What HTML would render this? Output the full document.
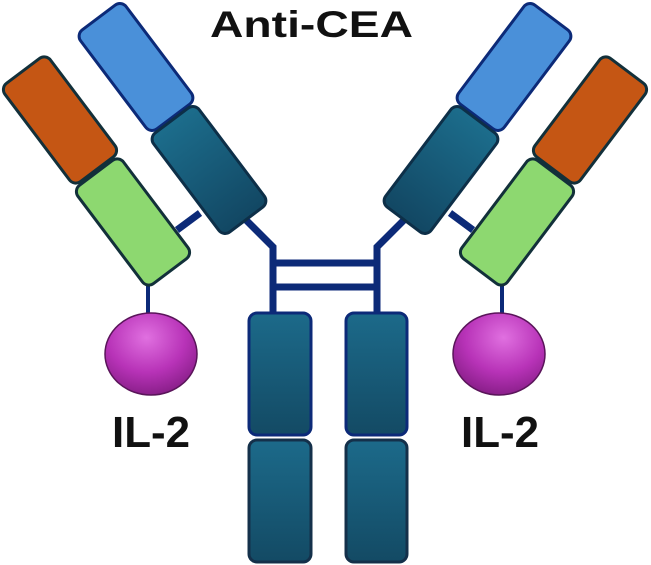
<!DOCTYPE html>
<html><head><meta charset="utf-8"><style>
html,body{margin:0;padding:0;background:#fff;}
svg{display:block}
</style></head><body>
<svg width="651" height="565" viewBox="0 0 651 565" xmlns="http://www.w3.org/2000/svg">
<defs>
<linearGradient id="tl" x1="0" y1="0" x2="0" y2="1"><stop offset="0" stop-color="#1c6d8c"/><stop offset="1" stop-color="#124763"/></linearGradient>
<linearGradient id="tb" x1="0" y1="0" x2="0" y2="1"><stop offset="0" stop-color="#1c6a8a"/><stop offset="1" stop-color="#134a64"/></linearGradient>
<radialGradient id="mg" cx="0.45" cy="0.3" r="0.7"><stop offset="0" stop-color="#e070e0"/><stop offset="0.6" stop-color="#b833b8"/><stop offset="1" stop-color="#8a1f8a"/></radialGradient>
<g id="arm">
  <line x1="200" y1="213" x2="177" y2="230" stroke="#0c2a78" stroke-width="7"/>
  <polyline points="246,220 273,247 273,314" fill="none" stroke="#0c2a78" stroke-width="7"/>
  <line x1="148" y1="283" x2="148" y2="314" stroke="#0c2a78" stroke-width="4"/>
  <rect x="107.5" y="5" width="57" height="124" rx="8" transform="rotate(-37 136 67)" fill="#4a90d9" stroke="#0c2a78" stroke-width="3"/>
  <rect x="180.5" y="108" width="57" height="124" rx="8" transform="rotate(-37 209 170)" fill="url(#tl)" stroke="#0d2f48" stroke-width="3"/>
  <rect x="31.5" y="58.5" width="57" height="123" rx="8" transform="rotate(-37 60 120)" fill="#c55614" stroke="#12303a" stroke-width="3"/>
  <rect x="104.5" y="160.5" width="57" height="123" rx="8" transform="rotate(-37 133 222)" fill="#8dd870" stroke="#12303a" stroke-width="3"/>
  <ellipse cx="151" cy="354" rx="46" ry="41" fill="url(#mg)" stroke="#5a155a" stroke-width="1.5"/>
</g>
</defs>
<use href="#arm"/>
<use href="#arm" transform="translate(650,0) scale(-1,1)"/>
<text x="112" y="447" font-family="Liberation Sans, sans-serif" font-weight="bold" font-size="44" textLength="78" lengthAdjust="spacingAndGlyphs" fill="#111">IL-2</text>
<text x="461" y="447" font-family="Liberation Sans, sans-serif" font-weight="bold" font-size="44" textLength="78" lengthAdjust="spacingAndGlyphs" fill="#111">IL-2</text>
<line x1="273" y1="263" x2="377" y2="263" stroke="#0c2a78" stroke-width="7"/>
<line x1="273" y1="287" x2="377" y2="287" stroke="#0c2a78" stroke-width="7"/>
<rect x="249" y="313" width="62" height="122" rx="8" fill="url(#tb)" stroke="#0c2a78" stroke-width="3"/>
<rect x="249" y="440" width="62" height="122" rx="8" fill="url(#tb)" stroke="#14304a" stroke-width="3"/>
<rect x="346" y="313" width="61" height="122" rx="8" fill="url(#tb)" stroke="#0c2a78" stroke-width="3"/>
<rect x="346" y="440" width="61" height="122" rx="8" fill="url(#tb)" stroke="#14304a" stroke-width="3"/>
<text x="210" y="37" font-family="Liberation Sans, sans-serif" font-weight="bold" font-size="37" textLength="203" lengthAdjust="spacingAndGlyphs" fill="#111">Anti-CEA</text>
</svg>
</body></html>
